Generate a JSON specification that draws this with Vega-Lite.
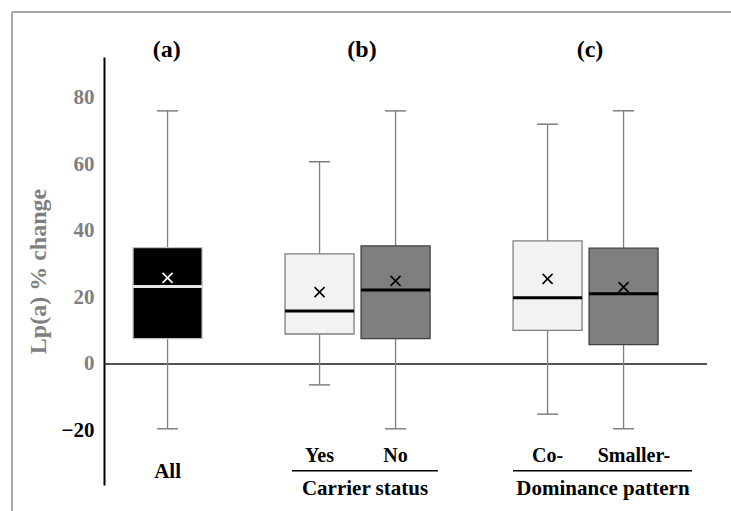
{
  "$schema": "https://vega.github.io/schema/vega-lite/v6.json",
  "autosize": {"type": "none"},
  "padding": {"left": 104, "top": 57, "right": 24, "bottom": 26},
  "width": 603,
  "height": 428,
  "background": "white",
  "config": {"view": {"stroke": null}, "text": {"font": "Liberation Serif", "fontWeight": "bold"}},
  "data": {"values": [
    {"group": "All", "lo": -19.5, "q1": 7.6, "median": 23.3, "q3": 35.0, "hi": 76.1, "mean": 25.9},
    {"group": "Yes", "lo": -6.3, "q1": 9.0, "median": 15.9, "q3": 33.1, "hi": 60.8, "mean": 21.6},
    {"group": "No", "lo": -19.5, "q1": 7.6, "median": 22.2, "q3": 35.5, "hi": 76.1, "mean": 25.0},
    {"group": "Co-", "lo": -15.1, "q1": 10.1, "median": 19.9, "q3": 37.0, "hi": 72.1, "mean": 25.6},
    {"group": "Smaller-", "lo": -19.5, "q1": 5.8, "median": 21.1, "q3": 34.8, "hi": 76.1, "mean": 23.1}
  ]},
  "encoding": {
    "x": {"field": "group", "type": "nominal", "axis": null,
      "scale": {"type": "band", "domain": ["All", "gap1", "Yes", "No", "gap2", "Co-", "Smaller-"], "paddingInner": 0, "paddingOuter": 0.467, "align": 0.36}}
  },
  "layer": [
    {
      "data": {"values": [{"edge": "top"}]},
      "mark": {"type": "rule", "color": "#a6a6a6", "strokeWidth": 2},
      "encoding": {
        "x": {"datum": "All", "type": "nominal", "bandPosition": -1.547},
        "x2": {"datum": "Smaller-", "bandPosition": 1.914},
        "y": {"datum": 105.8, "type": "quantitative"}
      }
    },
    {
      "data": {"values": [{"edge": "left"}]},
      "mark": {"type": "rule", "color": "#a6a6a6", "strokeWidth": 2},
      "encoding": {
        "x": {"datum": "All", "type": "nominal", "bandPosition": -1.547},
        "y": {"datum": 105.8, "type": "quantitative"},
        "y2": {"datum": -44.2}
      }
    },
    {
      "data": {"values": [{"ref": 0}]},
      "mark": {"type": "rule", "color": "#1a1a1a", "strokeWidth": 1.5},
      "encoding": {"x": null, "y": {"field": "ref", "type": "quantitative"}}
    },
    {
      "mark": {"type": "rule", "color": "#7f7f7f", "strokeWidth": 1.3},
      "encoding": {
        "y": {"field": "lo", "type": "quantitative",
          "scale": {"domain": [-36.4, 92.3], "nice": false, "zero": false},
          "axis": {"values": [-20, 0, 20, 40, 60, 80], "ticks": false, "grid": false,
            "domainColor": "black", "domainWidth": 2,
            "labelFont": "Liberation Serif", "labelFontWeight": "bold", "labelFontSize": 21,
            "labelColor": {"condition": {"test": "datum.value < 0", "value": "black"}, "value": "#7f7f7f"},
            "labelPadding": 10,
            "title": "Lp(a) % change", "titleFont": "Liberation Serif", "titleFontWeight": "bold",
            "titleFontSize": 24, "titleColor": "#7f7f7f", "titlePadding": 11}},
        "y2": {"field": "hi"}
      }
    },
    {
      "mark": {"type": "tick", "color": "#7f7f7f", "size": 21, "thickness": 1.5, "orient": "horizontal", "opacity": 1},
      "encoding": {"y": {"field": "lo", "type": "quantitative"}}
    },
    {
      "mark": {"type": "tick", "color": "#7f7f7f", "size": 21, "thickness": 1.5, "orient": "horizontal", "opacity": 1},
      "encoding": {"y": {"field": "hi", "type": "quantitative"}}
    },
    {
      "mark": {"type": "bar", "width": 69, "strokeWidth": 1.3},
      "encoding": {
        "y": {"field": "q1", "type": "quantitative"},
        "y2": {"field": "q3"},
        "fill": {"field": "group", "type": "nominal", "legend": null,
          "scale": {"domain": ["All", "Yes", "No", "Co-", "Smaller-"], "range": ["#000000", "#f2f2f2", "#7f7f7f", "#f2f2f2", "#7f7f7f"]}},
        "stroke": {"field": "group", "type": "nominal", "legend": null,
          "scale": {"domain": ["All", "Yes", "No", "Co-", "Smaller-"], "range": ["#bfbfbf", "#7f7f7f", "#404040", "#7f7f7f", "#404040"]}}
      }
    },
    {
      "mark": {"type": "tick", "size": 69, "thickness": 3, "orient": "horizontal", "opacity": 1},
      "encoding": {
        "y": {"field": "median", "type": "quantitative"},
        "color": {"condition": {"test": "datum.group === 'All'", "value": "#e6e6e6"}, "value": "#000000"}
      }
    },
    {
      "mark": {"type": "point", "shape": "M-1,-1L1,1M1,-1L-1,1", "filled": false, "size": 100, "strokeWidth": 1.6, "opacity": 1},
      "encoding": {
        "y": {"field": "mean", "type": "quantitative"},
        "color": {"condition": {"test": "datum.group === 'All'", "value": "#ffffff"}, "value": "#000000"}
      }
    },
    {
      "transform": [{"filter": "datum.group === 'All'"}],
      "mark": {"type": "text", "fontSize": 21, "baseline": "alphabetic", "color": "black"},
      "encoding": {"y": {"datum": -34.4, "type": "quantitative"}, "text": {"field": "group"}}
    },
    {
      "transform": [{"filter": "datum.group === 'Yes' || datum.group === 'No' || datum.group === 'Co-'"}],
      "mark": {"type": "text", "fontSize": 20, "baseline": "alphabetic", "color": "black"},
      "encoding": {"y": {"datum": -29.4, "type": "quantitative"}, "text": {"field": "group"}}
    },
    {
      "transform": [{"filter": "datum.group === 'Smaller-'"}],
      "mark": {"type": "text", "fontSize": 20, "baseline": "alphabetic", "color": "black"},
      "encoding": {"x": {"field": "group", "type": "nominal", "bandPosition": 0.637}, "y": {"datum": -29.4, "type": "quantitative"}, "text": {"field": "group"}}
    },
    {
      "data": {"values": [{"label": "underline"}]},
      "mark": {"type": "rule", "color": "black", "strokeWidth": 1.5},
      "encoding": {
        "x": {"datum": "Yes", "type": "nominal", "bandPosition": 0.137},
        "x2": {"datum": "No", "bandPosition": 1.058},
        "y": {"datum": -32.1, "type": "quantitative"}
      }
    },
    {
      "data": {"values": [{"label": "underline"}]},
      "mark": {"type": "rule", "color": "black", "strokeWidth": 1.5},
      "encoding": {
        "x": {"datum": "Co-", "type": "nominal", "bandPosition": 0.045},
        "x2": {"datum": "Smaller-", "bandPosition": 1.4},
        "y": {"datum": -32.1, "type": "quantitative"}
      }
    },
    {
      "data": {"values": [{"label": "Carrier status"}]},
      "mark": {"type": "text", "fontSize": 21, "baseline": "alphabetic", "color": "black"},
      "encoding": {"x": {"datum": "Yes", "type": "nominal", "bandPosition": 1.098}, "y": {"datum": -39.4, "type": "quantitative"}, "text": {"field": "label"}}
    },
    {
      "data": {"values": [{"label": "Dominance pattern"}]},
      "mark": {"type": "text", "fontSize": 21, "baseline": "alphabetic", "color": "black"},
      "encoding": {"x": {"datum": "Co-", "type": "nominal", "bandPosition": 1.229}, "y": {"datum": -39.4, "type": "quantitative"}, "text": {"field": "label"}}
    },
    {
      "data": {"values": [{"label": "(a)"}]},
      "mark": {"type": "text", "fontSize": 24, "baseline": "alphabetic", "color": "black"},
      "encoding": {"x": {"datum": "All", "type": "nominal", "bandPosition": 0.49}, "y": {"datum": 92.3, "type": "quantitative"}, "text": {"field": "label"}}
    },
    {
      "data": {"values": [{"label": "(b)"}]},
      "mark": {"type": "text", "fontSize": 24, "baseline": "alphabetic", "color": "black"},
      "encoding": {"x": {"datum": "Yes", "type": "nominal", "bandPosition": 1.058}, "y": {"datum": 92.3, "type": "quantitative"}, "text": {"field": "label"}}
    },
    {
      "data": {"values": [{"label": "(c)"}]},
      "mark": {"type": "text", "fontSize": 24, "baseline": "alphabetic", "color": "black"},
      "encoding": {"x": {"datum": "Co-", "type": "nominal", "bandPosition": 1.058}, "y": {"datum": 92.3, "type": "quantitative"}, "text": {"field": "label"}}
    }
  ]
}
